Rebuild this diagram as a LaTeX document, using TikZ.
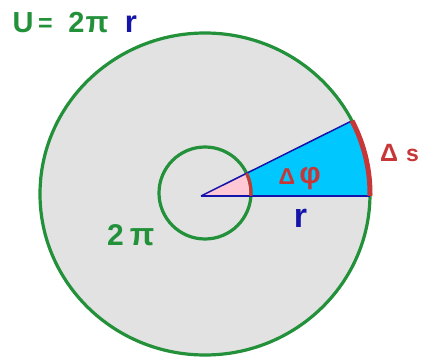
\documentclass[tikz,border=0pt]{standalone}
\usepackage{fontspec}
\setmainfont{Liberation Sans}
\usetikzlibrary{calc}
\definecolor{cgreen}{RGB}{34,145,58}
\definecolor{cblue}{RGB}{20,20,170}
\definecolor{cred}{RGB}{200,55,55}
\definecolor{ccyan}{RGB}{0,200,255}
\definecolor{cgray}{RGB}{226,226,226}
\definecolor{cpink}{RGB}{255,200,212}
\tikzset{
  lbl/.style={inner sep=0pt, anchor=base, font=\bfseries},
  radiusline/.style={draw=cblue, line width=1.5pt},
  greenline/.style={draw=cgreen, line width=3.2pt},
}
\newcommand{\fsz}[1]{\fontsize{#1}{#1}\selectfont}
\newcommand{\bigdisc}{(205,194) ellipse[x radius=165, y radius=161]}
\newcommand{\smalldisc}{(205,193) circle[radius=46]}
\begin{document}
\begin{tikzpicture}[x=1pt,y=-1pt]
\useasboundingbox (0,0) rectangle (423,358);
\fill[white] (0,0) rectangle (423,358);
\coordinate (O) at (201,196);
\coordinate (A) at (370,196);
\coordinate (B) at (350.5,121.5);
% big disc
\fill[cgray] \bigdisc;
% sector fills
\begin{scope}
  \clip (O) -- ($(O)!2!(A)$) -- ($(O)!2!(B)$) -- cycle;
  \fill[ccyan] \bigdisc;
  \fill[cpink] \smalldisc;
\end{scope}
% green circles
\draw[greenline] \bigdisc;
\draw[greenline] \smalldisc;
% radius lines
\draw[radiusline] (O) -- (A);
\draw[radiusline] (O) -- (B);
% red arcs
\begin{scope}
  \clip (O) -- ($(O)!2!(A)$) -- ($(O)!2!(B)$) -- cycle;
  \draw[cred, line width=5pt] \bigdisc;
  \draw[cred, line width=3pt] \smalldisc;
\end{scope}
% labels
\node[lbl, text=cgreen, font=\bfseries\fsz{29}] (tU) at (23,33) {U};
\node[lbl, text=cgreen, font=\bfseries\fsz{25}] (teq) at (45.5,32) {=};
\node[lbl, text=cgreen, font=\bfseries\fsz{29}] (t2) at (76.5,33) {2};
\node[lbl, text=cgreen, font=\bfseries\fsz{30}] (tpi) at (97,33) {π};
\node[lbl, text=cblue, font=\bfseries\fsz{31}] (tr) at (131,33) {r};
\node[lbl, text=cgreen, font=\bfseries\fsz{30}] (l2) at (115.5,245) {2};
\node[lbl, text=cgreen, font=\bfseries\fsz{32}] (lpi) at (142,245) {π};
\node[lbl, text=cblue, font=\bfseries\fsz{34}] (lr) at (300.5,228) {r};
\node[lbl, text=cred, font=\bfseries\fsz{25}] (sD) at (389,162) {Δ};
\node[lbl, text=cred, font=\bfseries\fsz{23}] (ss) at (412.5,162) {s};
\node[lbl, text=cred, font=\bfseries\fsz{23}] (pD) at (287,185) {Δ};
\node[lbl, text=cred, font=\bfseries\fsz{30}] (pp) at (310,184) {φ};
\end{tikzpicture}
\end{document}
